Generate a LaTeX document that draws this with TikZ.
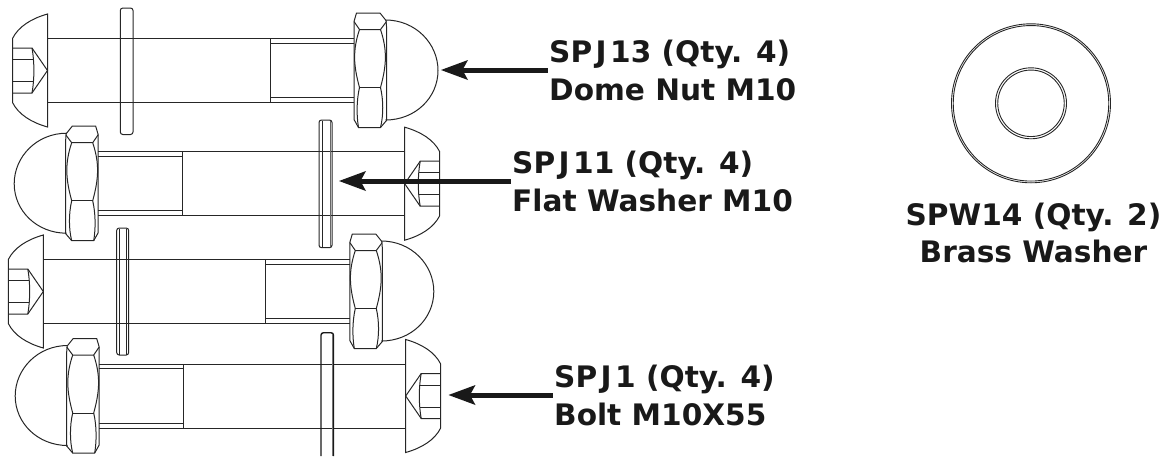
\documentclass[tikz,border=0pt]{standalone}
\usepackage{fontspec}
\setmainfont{DejaVu Sans}
\tikzset{
  part/.style={line width=1pt,draw=black!85},
  wash/.style={line width=1pt,draw=black!85},
  lbl/.style={font=\bfseries\fontsize{29.6}{38}\selectfont,text=black!90,align=left,anchor=west,inner sep=0pt},
  lblc/.style={font=\bfseries\fontsize{29.6}{37}\selectfont,text=black!90,align=center,inner sep=0pt},
  lead/.style={line width=5pt,draw=black!90},
  tiph/.style={fill=black!90,draw=none},
  ring/.style={line width=0.9pt,draw=black!85},
}
\newcommand{\jay}{\kern3.5pt J\kern3.5pt}
% #1 x of head flat, #2 axis y, #3 +1 nut to the right / -1 nut to the left
\newcommand{\boltdraw}[3]{%
\begin{scope}[shift={(#1,#2)},xscale=#3]
  % head
  \draw[part] (0,-56.5) .. controls (-16,-52) and (-29,-44) .. (-35,-32) -- (-35,32) .. controls (-29,44) and (-16,52) .. (0,56.5) -- cycle;
  % socket
  \draw[part] (-35,-22.5) -- (-15.5,-22.5) -- (0,0) -- (-15.5,22.5) -- (-35,22.5);
  \draw[part] (-35,-11) -- (-14.5,-11) (-35,11) -- (-14.5,11);
  \draw[part] (-15.5,-22.5) .. controls (-13,-9) and (-13,9) .. (-15.5,22.5);
  % shank
  \draw[part] (0,-32) -- (306.5,-32) (0,32) -- (306.5,32);
  \draw[part] (222.5,-32) -- (222.5,32);
  \draw[part] (222.5,-27.5) -- (306.5,-27.5) (222.5,27) -- (306.5,27);
  % dome
  \draw[part] (338,-50.5) .. controls (368,-50.5) and (390.5,-27) .. (390.5,0) .. controls (390.5,27) and (368,49.5) .. (338,49.5);
  % nut
  \draw[part] (309,-57.5) -- (332.5,-57.5) -- (338.5,-50) -- (339,-44) -- (339,50) -- (333,57) -- (311,57) -- (306.5,49) -- (306.5,-49) -- cycle;
  \draw[part] (306.5,-49) -- (312,-41) -- (333,-41) -- (339,-49);
  \draw[part] (312,17) -- (333,17);
  \draw[part] (312,-41) .. controls (305,-20) and (306,-5) .. (312,17) .. controls (309,30) and (309,45) .. (311,57);
  \draw[part] (333,-41) .. controls (340,-20) and (339,-5) .. (333,17) .. controls (336,30) and (336,45) .. (333,57);
\end{scope}}
\begin{document}
\begin{tikzpicture}[x=1pt,y=-1pt]
\useasboundingbox (0,0) rectangle (1168,456);
% bolts
\boltdraw{47.5}{70.5}{1}
\boltdraw{404.7}{183.7}{-1}
\boltdraw{43.3}{291.5}{1}
\boltdraw{405.7}{396}{-1}
% washers
\draw[wash,rounded corners=2.5pt] (120.3,8) rectangle (133,134.5);
\draw[wash,rounded corners=2.5pt] (319,120) rectangle (332,247.7);
\draw[wash] (322.5,120.5) -- (322.5,247.5);
\draw[wash,line width=1.6pt,black!60] (330.5,121) -- (330.5,247);
\draw[wash,rounded corners=2.5pt] (116.7,228) rectangle (128.7,355);
\draw[wash] (119.5,228.5) -- (119.5,354.5);
\draw[wash] (126.5,228.5) -- (126.5,354.5);
\draw[line width=1.4pt,black!90,rounded corners=2.5pt] (321,456) -- (321,332.7) -- (333.5,332.7) -- (333.5,456);
\draw[line width=1.8pt,black!55] (332.5,335) -- (332.5,456);
% right washer
\node[circle,ring,minimum size=159pt,inner sep=0pt] (wo) at (1031,103.3) {};
\node[circle,ring,minimum size=155.5pt,inner sep=0pt] (wo2) at (wo.center) {};
\node[circle,ring,minimum size=71pt,inner sep=0pt] (wi) at (wo.center) {};
\node[circle,ring,minimum size=66.5pt,inner sep=0pt] (wi2) at (wo.center) {};
% labels
\node[lbl] (a) at (549,70.7) {SP\jay 13 (Qty. 4)\\Dome Nut M10};
\node[lbl] (b) at (512,181.7) {SP\jay 11 (Qty. 4)\\Flat Washer M10};
\node[lbl] (c) at (554,395) {SP\jay 1 (Qty. 4)\\Bolt M10X55};
\node[lblc] (d) at (1033.5,233) {SPW14 (Qty. 2)\\Brass Washer};
% leaders
\coordinate (ta) at (441,70);
\coordinate (tb) at (339,181);
\coordinate (tc) at (448.5,395);
\foreach \t/\f in {ta/a,tb/b,tc/c}{
  \draw[lead] ([xshift=-1.5pt]\f.west |- \t) -- ([xshift=14pt]\t);
  \fill[tiph] (\t) -- ++(27,-10) -- ++(-5.5,10) -- ++(5.5,10) -- cycle;
}
\end{tikzpicture}
\end{document}
